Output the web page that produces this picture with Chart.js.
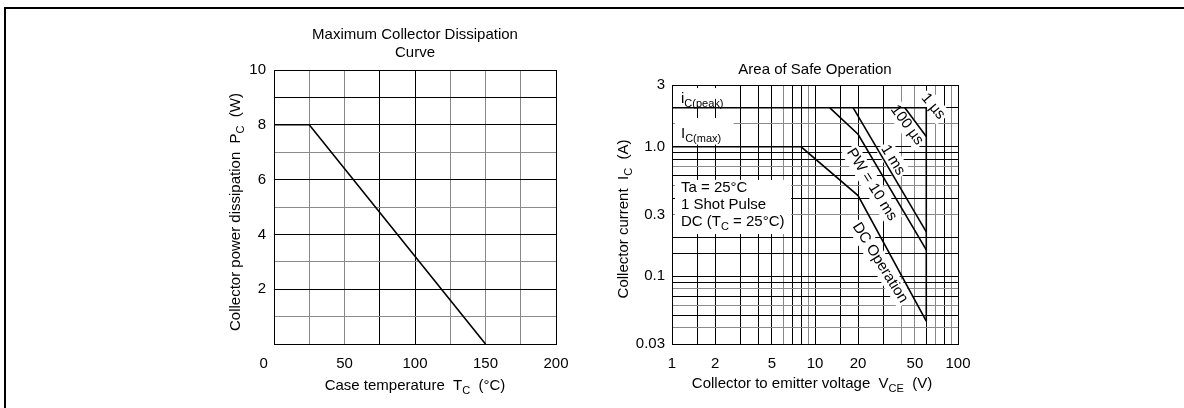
<!DOCTYPE html>
<html>
<head>
<meta charset="utf-8">
<script src="https://cdn.jsdelivr.net/npm/chart.js@4.4.0/dist/chart.umd.min.js"></script>
<style>
  html, body { margin: 0; padding: 0; background: #fff; }
  body { width: 1184px; height: 408px; position: relative; overflow: hidden; }
  #frame { position: absolute; left: 4px; top: 7px; width: 1300px; height: 500px;
           border-top: 2px solid #000; border-left: 2px solid #000; }
  .box { position: absolute; top: 0; width: 400px; height: 408px; }
</style>
</head>
<body>
<div id="frame"></div>
<div class="box" style="left:200px"><canvas id="pcChart" width="400" height="408"></canvas></div>
<div class="box" style="left:600px"><canvas id="soaChart" width="400" height="408"></canvas></div>
<script>
// ---- Maximum collector dissipation ----
const caseTemp = [0, 25, 150];          // Tc (°C)
const maxPower = [8, 8, 0];             // Pc (W)
const tempTicks = [0, 25, 50, 75, 100, 125, 150, 175, 200];
const tempLabels = ['0', '', '50', '', '100', '', '150', '', '200'];
const powerTicks = [0, 1, 2, 3, 4, 5, 6, 7, 8, 9, 10];
const powerLabels = ['', '', '2', '', '4', '', '6', '', '8', '', '10'];

// ---- Area of safe operation (log-log) ----
const vceTicks = [1, 1.5, 2, 3, 4, 5, 6, 7, 8, 9, 10, 15, 20, 30, 40, 50, 60, 70, 80, 90, 100];
const vceLabels = ['1', '', '2', '', '', '5', '', '', '', '', '10', '', '20', '', '', '50', '', '', '', '', '100'];
const icTicks = [0.03, 0.04, 0.05, 0.06, 0.07, 0.08, 0.09, 0.1, 0.15, 0.2, 0.3, 0.4, 0.5, 0.6, 0.7, 0.8, 0.9, 1, 1.5, 2, 3];
const icLabels = ['0.03', '', '', '', '', '', '', '0.1', '', '', '0.3', '', '', '', '', '', '', '1.0', '', '', '3'];

const peakV = [1, 60, 60];      const peakI = [2, 2, 0.045];
const us100V = [42.5, 60];      const us100I = [2, 1.2];
const ms1V = [18.5, 60];        const ms1I = [2, 0.22];
const ms10V = [12.7, 20, 60];   const ms10I = [2, 1.25, 0.16];
const dcV = [1, 8, 20, 60];     const dcI = [1, 1, 0.42, 0.045];

const FONT = '"Liberation Sans", Arial, Helvetica, sans-serif';
const GRAY = '#8a8a8a';

// draws text made of parts; a part starting with "_" is a subscript
function richText(ctx, parts, x, y, o) {
  o = o || {};
  const size = o.size || 15, sub = Math.round(size * 0.72);
  ctx.save();
  ctx.translate(x, y);
  if (o.angle) ctx.rotate(o.angle * Math.PI / 180);
  ctx.textBaseline = o.baseline || 'alphabetic';
  ctx.textAlign = 'left';
  const items = parts.map(p => p[0] === '_' ? [p.slice(1), true] : [p, false]);
  const widths = items.map(p => { ctx.font = (p[1] ? sub : size) + 'px ' + FONT; return ctx.measureText(p[0]).width; });
  const total = widths.reduce((a, b) => a + b, 0);
  let cx = o.align === 'center' ? -total / 2 : (o.align === 'right' ? -total : 0);
  if (o.bg) {
    ctx.fillStyle = '#fff';
    ctx.fillRect(cx - 2, -size * 0.62, total + 4, size * 1.24);
  }
  ctx.fillStyle = '#000';
  items.forEach((p, i) => {
    ctx.font = (p[1] ? sub : size) + 'px ' + FONT;
    ctx.fillText(p[0], cx, p[1] ? size * 0.28 : 0);
    cx += widths[i];
  });
  ctx.restore();
}

const notesPlugin = {
  id: 'notes',
  beforeDatasetsDraw(chart, args, opts) {
    const ctx = chart.ctx, xs = chart.scales.x, ys = chart.scales.y;
    (opts.boxes || []).forEach(b => {
      const x1 = xs.getPixelForValue(b.x[0]), x2 = xs.getPixelForValue(b.x[1]);
      const y1 = ys.getPixelForValue(b.y[0]), y2 = ys.getPixelForValue(b.y[1]);
      ctx.fillStyle = '#fff';
      ctx.fillRect(Math.min(x1, x2), Math.min(y1, y2), Math.abs(x2 - x1), Math.abs(y2 - y1));
    });
    (opts.labels || []).forEach(l => {
      richText(ctx, l.parts, xs.getPixelForValue(l.x), ys.getPixelForValue(l.y), l);
    });
  },
  afterDraw(chart, args, opts) {
    (opts.texts || []).forEach(t => richText(chart.ctx, t.parts, t.px, t.py, t));
  }
};

function pts(xs, ys) { return xs.map((x, i) => ({ x: x, y: ys[i] })); }

function axis(type, min, max, ticks, labels, grayVals, size, extra) {
  return Object.assign({
    type: type, min: min, max: max,
    afterBuildTicks: s => { s.ticks = ticks.map(v => ({ value: v })); },
    afterFit: s => { if (s.isHorizontal()) s.height = size; else s.width = size; },
    ticks: { callback: (v, i) => labels[i], color: '#000', font: { family: FONT, size: 15 },
             autoSkip: false, maxRotation: 0, minRotation: 0 },
    grid: { drawTicks: false, lineWidth: 1,
            color: c => (c.tick && grayVals.includes(c.tick.value)) ? GRAY : '#000' },
    border: { color: '#000', width: 1 }
  }, extra || {});
}

const lineStyle = { borderColor: '#000', borderWidth: 1.6, pointRadius: 0, fill: false, tension: 0 };

// left chart
const pcX = axis('linear', 0, 200, tempTicks, tempLabels, [25, 50, 125, 150, 175], 30);
pcX.ticks.padding = 11;
pcX.ticks.callback = (v, i) => i === 0 ? tempLabels[0] + '\u00a0\u00a0\u00a0\u00a0\u00a0' : tempLabels[i];
const pcY = axis('linear', 0, 10, powerTicks, powerLabels, [1, 3, 5, 7], 40);
pcY.ticks.padding = 8;

new Chart(document.getElementById('pcChart'), {
  type: 'line',
  data: { datasets: [Object.assign({ data: pts(caseTemp, maxPower) }, lineStyle)] },
  options: {
    responsive: false, animation: false,
    layout: { padding: { left: 34, right: 44, top: 70, bottom: 34 } },
    scales: { x: pcX, y: pcY },
    plugins: {
      legend: { display: false }, tooltip: { enabled: false },
      notes: {
        texts: [
          { parts: ['Maximum Collector Dissipation'], px: 215, py: 39, align: 'center' },
          { parts: ['Curve'], px: 215, py: 57, align: 'center' },
          { parts: ['Case temperature  T', '_C', '  (\u00b0C)'], px: 215, py: 390, align: 'center' },
          { parts: ['Collector power dissipation  P', '_C', '  (W)'], px: 40, py: 212, align: 'center', angle: -90 }
        ]
      }
    }
  },
  plugins: [notesPlugin]
});

// right chart
const soaX = axis('logarithmic', 1, 100, vceTicks, vceLabels, [6, 9, 40, 50, 70, 90], 30);
soaX.ticks.padding = 11;
const soaY = axis('logarithmic', 0.03, 3, icTicks, icLabels, [0.04, 0.06, 0.08, 0.3, 0.5, 0.7, 1.5], 40);
soaY.ticks.padding = 7;

new Chart(document.getElementById('soaChart'), {
  type: 'line',
  data: {
    datasets: [
      Object.assign({ data: pts(peakV, peakI) }, lineStyle),
      Object.assign({ data: pts(us100V, us100I) }, lineStyle),
      Object.assign({ data: pts(ms1V, ms1I) }, lineStyle),
      Object.assign({ data: pts(ms10V, ms10I) }, lineStyle),
      Object.assign({ data: pts(dcV, dcI) }, lineStyle)
    ]
  },
  options: {
    responsive: false, animation: false,
    layout: { padding: { left: 32, right: 42, top: 85, bottom: 34 } },
    scales: { x: soaX, y: soaY },
    plugins: {
      legend: { display: false }, tooltip: { enabled: false },
      notes: {
        boxes: [
          { x: [1.05, 2.76], y: [2.84, 2.06] },
          { x: [1.05, 2.7], y: [1.67, 1.04] },
          { x: [1.05, 6.8], y: [0.555, 0.212] }
        ],
        labels: [
          { parts: ['i', '_C(peak)'], x: 1.156, y: 2.18 },
          { parts: ['I', '_C(max)'], x: 1.156, y: 1.17 },
          { parts: ['Ta = 25\u00b0C'], x: 1.156, y: 0.45 },
          { parts: ['1 Shot Pulse'], x: 1.156, y: 0.329 },
          { parts: ['DC (T', '_C', ' = 25\u00b0C)'], x: 1.156, y: 0.244 },
          { parts: ['1 \u00b5s'], x: 67, y: 2.05, align: 'center', baseline: 'middle', angle: 50, bg: true },
          { parts: ['100 \u00b5s'], x: 44, y: 1.47, align: 'center', baseline: 'middle', angle: 54, bg: true },
          { parts: ['1 ms'], x: 35.1, y: 0.79, align: 'center', baseline: 'middle', angle: 58, bg: true },
          { parts: ['PW = 10 ms'], x: 24.9, y: 0.51, align: 'center', baseline: 'middle', angle: 58, bg: true },
          { parts: ['DC Operation'], x: 28.5, y: 0.127, align: 'center', baseline: 'middle', angle: 58, bg: true }
        ],
        texts: [
          { parts: ['Area of Safe Operation'], px: 215, py: 74, align: 'center' },
          { parts: ['Collector to emitter voltage  V', '_CE', '  (V)'], px: 212, py: 388, align: 'center' },
          { parts: ['Collector current  I', '_C', '  (A)'], px: 28, py: 219, align: 'center', angle: -90 }
        ]
      }
    }
  },
  plugins: [notesPlugin]
});
</script>
</body>
</html>
